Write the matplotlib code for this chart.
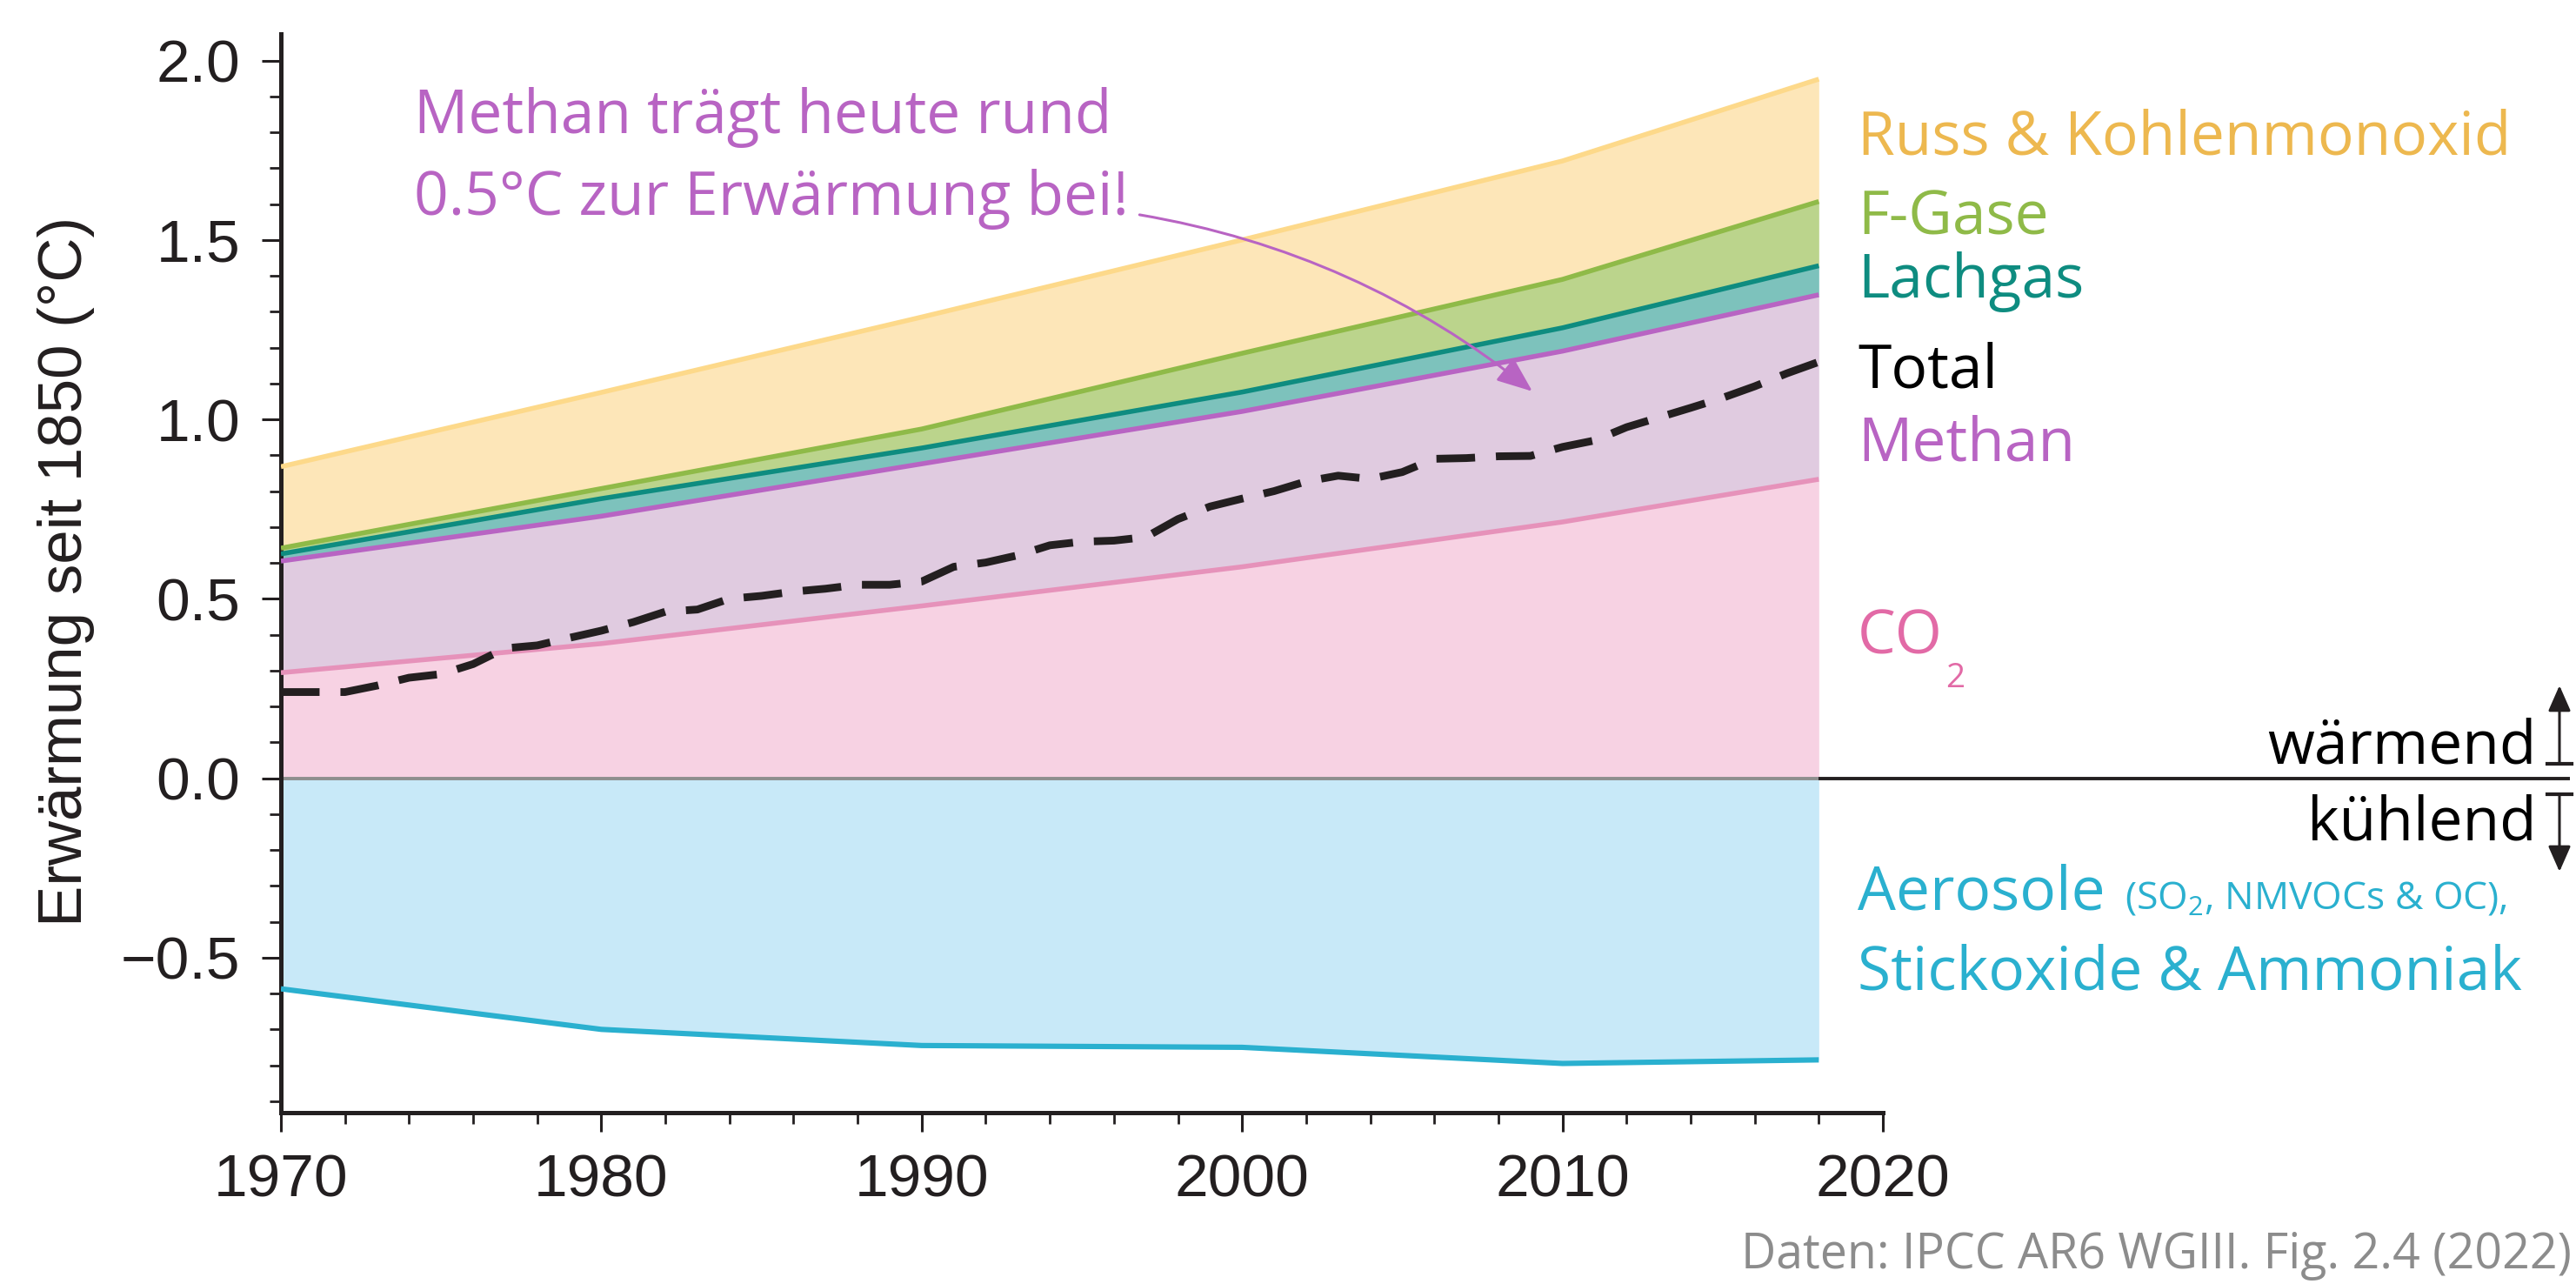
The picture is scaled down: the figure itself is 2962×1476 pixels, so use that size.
import matplotlib
matplotlib.use("Agg")
import matplotlib.pyplot as plt
import numpy as np
from matplotlib.lines import Line2D

# ---------------- data ----------------
decades = [1970, 1980, 1990, 2000, 2010, 2018]
co2 = [0.294, 0.375, 0.480, 0.589, 0.714, 0.833]          # contribution CO2
methan = [0.311, 0.355, 0.396, 0.433, 0.476, 0.514]       # contribution CH4
lachgas = [0.020, 0.049, 0.044, 0.054, 0.065, 0.081]      # contribution N2O
fgase = [0.016, 0.028, 0.053, 0.108, 0.135, 0.179]        # contribution F-gases
russ = [0.227, 0.268, 0.312, 0.316, 0.330, 0.341]         # black carbon & CO
aerosole = [-0.587, -0.700, -0.745, -0.750, -0.795, -0.785]

total_years = list(range(1970, 2019))
total = [0.240, 0.240, 0.240, 0.258, 0.280, 0.290, 0.318, 0.362, 0.370, 0.391,
         0.411, 0.435, 0.464, 0.470, 0.500, 0.508, 0.520, 0.528, 0.539, 0.539,
         0.548, 0.589, 0.601, 0.621, 0.649, 0.659, 0.662, 0.672, 0.722, 0.757,
         0.779, 0.800, 0.827, 0.843, 0.834, 0.853, 0.890, 0.892, 0.897, 0.898,
         0.923, 0.941, 0.978, 1.005, 1.032, 1.060, 1.092, 1.128, 1.160]

xticks = [1970, 1980, 1990, 2000, 2010, 2020]
yticks = [-0.5, 0.0, 0.5, 1.0, 1.5, 2.0]

# ---------------- style ----------------
W, H, DPI = 2962, 1476, 200
INK = "#231F20"
C_RUSS_F, C_RUSS_L, C_RUSS_T = "#FDE6B8", "#FDD98A", "#EDB84F"
C_FG_F, C_FG_L = "#BBD48C", "#8FBA48"
C_N2O_F, C_N2O_L = "#7DC2BC", "#0E8C80"
C_CH4_F, C_CH4_L = "#E0CBE0", "#B864C3"
C_CO2_F, C_CO2_L, C_CO2_T = "#F7D2E3", "#E692BA", "#E26AA6"
C_AER_F, C_AER_L = "#C8E9F8", "#2AB0CF"

plt.rcParams["font.family"] = ["Liberation Sans", "DejaVu Sans"]
plt.rcParams["mathtext.fontset"] = "custom"
plt.rcParams["mathtext.rm"] = "Open Sans"
plt.rcParams["mathtext.it"] = "Open Sans"
plt.rcParams["mathtext.default"] = "regular"
LAB = ["Open Sans", "DejaVu Sans"]
LS = 25


def fx(px):
    return px / W


def fy(py):
    return 1 - py / H


fig = plt.figure(figsize=(W / DPI, H / DPI), dpi=DPI)
ax = fig.add_axes([fx(323), fy(1279), (2165 - 323) / W, (1279 - 39) / H])
ax.set_xlim(1970, 2020)
ax.set_ylim(-0.932, 2.074)

yrs = np.array(decades, dtype=float)
t_co2 = np.array(co2)
t_ch4 = t_co2 + np.array(methan)
t_n2o = t_ch4 + np.array(lachgas)
t_fg = t_n2o + np.array(fgase)
t_russ = t_fg + np.array(russ)
aer = np.array(aerosole)

layers = [
    (np.zeros_like(yrs), t_co2, C_CO2_F, C_CO2_L),
    (t_co2, t_ch4, C_CH4_F, C_CH4_L),
    (t_ch4, t_n2o, C_N2O_F, C_N2O_L),
    (t_n2o, t_fg, C_FG_F, C_FG_L),
    (t_fg, t_russ, C_RUSS_F, C_RUSS_L),
]
for b, t, fc, lc in layers:
    ax.fill_between(yrs, b, t, color=fc, lw=0, zorder=1)
ax.fill_between(yrs, 0, aer, color=C_AER_F, lw=0, zorder=1)

# zero line inside plot (grey) and outside (black)
ax.plot([decades[0], decades[-1]], [0, 0], color="#8E8E8E", lw=1.4, zorder=2,
        solid_capstyle="butt")
xend = ax.transData.inverted().transform(fig.transFigure.transform((fx(2955), 0)))[0]
ax.plot([decades[-1], xend], [0, 0], color=INK, lw=1.4, zorder=2,
        clip_on=False, solid_capstyle="butt")

for b, t, fc, lc in layers:
    ax.plot(yrs, t, color=lc, lw=2.0, zorder=3, solid_capstyle="butt")
ax.plot(yrs, aer, color=C_AER_L, lw=2.2, zorder=3, solid_capstyle="butt")

ax.plot(total_years, total, color=INK, lw=3.2, ls=(0, (5.0, 2.7)),
        dash_capstyle="butt", zorder=5)

# axes styling
for s in ["top", "right"]:
    ax.spines[s].set_visible(False)
for s in ["left", "bottom"]:
    ax.spines[s].set_linewidth(1.8)
    ax.spines[s].set_color(INK)
ax.set_xticks(xticks)
ax.set_xticklabels([str(v) for v in xticks])
ax.set_yticks(yticks)
ax.set_yticklabels([f"{v:.1f}".replace("-", "\u2212") for v in yticks])
ax.set_xticks(np.arange(1970, 2021, 2), minor=True)
ax.set_yticks(np.arange(-0.9, 2.01, 0.1), minor=True)
ax.tick_params(which="major", length=7.9, width=1.1, direction="out",
               labelsize=25, pad=9, colors=INK)
ax.tick_params(which="minor", length=4.6, width=1.0, direction="out", colors=INK)
ax.patch.set_alpha(0)

fig.text(fx(76), fy(657), "Erwärmung seit 1850 (°C)", rotation=90,
         ha="center", va="center", fontsize=25.5, color=INK)

# right-hand labels
lx = fx(2136)
fig.text(lx, fy(178), "Russ & Kohlenmonoxid", color=C_RUSS_T, fontsize=LS,
         family=LAB, va="baseline")
fig.text(lx, fy(270), "F-Gase", color=C_FG_L, fontsize=LS, family=LAB, va="baseline")
fig.text(lx, fy(342), "Lachgas", color=C_N2O_L, fontsize=LS, family=LAB, va="baseline")
fig.text(lx, fy(445), "Total", color="black", fontsize=LS, family=LAB, va="baseline")
fig.text(lx, fy(530), "Methan", color=C_CH4_L, fontsize=LS, family=LAB, va="baseline")
t_co = fig.text(lx, fy(752), "CO", color=C_CO2_T, fontsize=LS, family=LAB,
                va="baseline")
t_aer = fig.text(lx, fy(1045), "Aerosole", color=C_AER_L, fontsize=LS, family=LAB,
                 va="baseline")
fig.canvas.draw()
rend = fig.canvas.get_renderer()
bco = t_co.get_window_extent(renderer=rend)
fig.text((bco.x1 + 3) / W, fy(790), "2", color=C_CO2_T, fontsize=LS * 0.56,
         family=LAB, va="baseline")
bb = t_aer.get_window_extent(renderer=rend)
fig.text((bb.x1 + 22) / W, fy(1045), r"(SO$_2$, NMVOCs & OC),", color=C_AER_L,
         fontsize=LS * 0.64, family=LAB, va="baseline")
fig.text(lx, fy(1138), "Stickoxide & Ammoniak", color=C_AER_L, fontsize=LS,
         family=LAB, va="baseline")

fig.text(fx(2917), fy(878), "wärmend", color="black", fontsize=LS, family=LAB,
         ha="right", va="baseline")
fig.text(fx(2917), fy(965), "kühlend", color="black", fontsize=LS, family=LAB,
         ha="right", va="baseline")
ax_x = 2943
for base, tip in [(878, 788), (913, 1002)]:
    fig.add_artist(Line2D([fx(ax_x - 14), fx(ax_x + 14)], [fy(base), fy(base)],
                          transform=fig.transFigure, color=INK, lw=1.5))
    fig.add_artist(matplotlib.patches.FancyArrowPatch(
        (fx(ax_x), fy(base)), (fx(ax_x), fy(tip)), transform=fig.transFigure,
        arrowstyle="-|>,head_length=0.5,head_width=0.22", mutation_scale=18,
        color=INK, lw=1.1, shrinkA=0, shrinkB=0))

# methane annotation
fig.text(fx(476), fy(153), "Methan trägt heute rund", color=C_CH4_L, fontsize=LS,
         family=LAB, va="baseline")
fig.text(fx(476), fy(247), "0.5°C zur Erwärmung bei!", color=C_CH4_L, fontsize=LS,
         family=LAB, va="baseline")
ax.annotate("", xy=(2009.06, 1.078), xytext=(1996.8, 1.570),
            arrowprops=dict(arrowstyle="-|>,head_length=0.45,head_width=0.18",
                            mutation_scale=28, color=C_CH4_L, lw=1.1,
                            connectionstyle="arc3,rad=-0.13",
                            shrinkA=0, shrinkB=0), zorder=6)

fig.text(fx(2957), fy(1458), "Daten: IPCC AR6 WGIII. Fig. 2.4 (2022)",
         color="#8C8C8C", fontsize=20, family=LAB, ha="right", va="baseline")

fig.savefig("out.png", dpi=DPI)
